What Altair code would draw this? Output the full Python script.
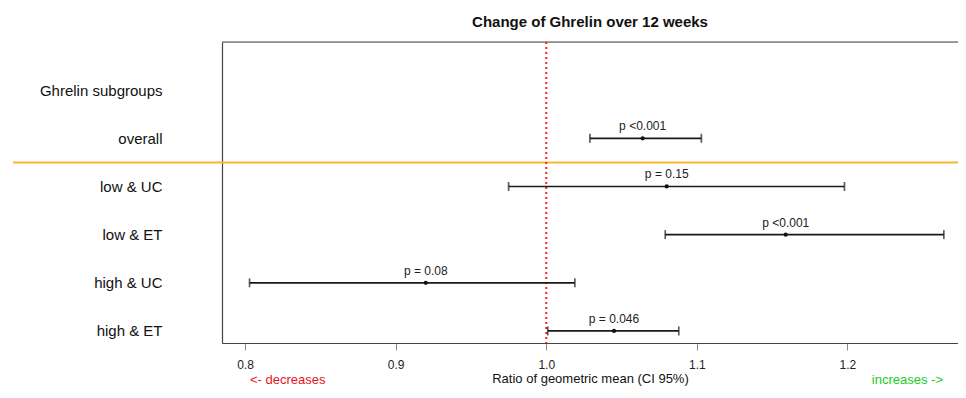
import json
import altair as alt
import pandas as pd

# ---- data ----
row_labels = ["Ghrelin subgroups", "overall", "low & UC", "low & ET", "high & UC", "high & ET"]
groups = ["overall", "low & UC", "low & ET", "high & UC", "high & ET"]
rows = [2, 3, 4, 5, 6]
estimate = [1.064, 1.080, 1.159, 0.920, 1.045]
ci_low = [1.029, 0.975, 1.079, 0.803, 1.001]
ci_high = [1.103, 1.198, 1.264, 1.019, 1.088]
p_labels = ["p <0.001", "p = 0.15", "p <0.001", "p = 0.08", "p = 0.046"]
x_ticks = [0.8, 0.9, 1.0, 1.1, 1.2]
x_domain = [0.7847, 1.2734]
y_domain = [0, 6.25]
ref_value = 1.0
separator_row = 2.5

FONT = "Liberation Sans"
W, H = 736, 301

df = pd.DataFrame({"group": groups, "row": rows, "est": estimate,
                   "lo": ci_low, "hi": ci_high, "p": p_labels})

xs = alt.Scale(domain=x_domain, nice=False, zero=False)
ys = alt.Scale(domain=y_domain, reverse=True, nice=False, zero=False)

label_expr = json.dumps(row_labels) + "[datum.value - 1]"

base = alt.Chart(df)

bars = base.mark_rule(color="#1a1a1a", strokeWidth=1.7).encode(
    x=alt.X("lo:Q", scale=xs,
            axis=alt.Axis(values=x_ticks, format=".1f", grid=False, tickSize=7,
                          tickColor="#888888", domainColor="#444444", domainWidth=1.2,
                          labelFontSize=12, labelColor="#222222", labelPadding=9,
                          labelFont=FONT, title="Ratio of geometric mean (CI 95%)",
                          titleFont=FONT, titleFontSize=13, titleFontWeight="normal",
                          titleColor="#111111", titlePadding=2)),
    x2="hi:Q",
    y=alt.Y("row:Q", scale=ys,
            axis=alt.Axis(values=[1, 2, 3, 4, 5, 6], labelExpr=label_expr, ticks=False,
                          tickSize=0, grid=False, domainColor="#444444", domainWidth=1.2,
                          labelFontSize=15, labelColor="#111111", labelFont=FONT,
                          labelPadding=60, title=None)),
)

caps_lo = base.mark_tick(orient="vertical", color="#1a1a1a", size=9, thickness=1.7).encode(
    x=alt.X("lo:Q", scale=xs), y=alt.Y("row:Q", scale=ys))
caps_hi = base.mark_tick(orient="vertical", color="#1a1a1a", size=9, thickness=1.7).encode(
    x=alt.X("hi:Q", scale=xs), y=alt.Y("row:Q", scale=ys))

points = base.mark_circle(color="#111111", size=18, opacity=1).encode(
    x=alt.X("est:Q", scale=xs), y=alt.Y("row:Q", scale=ys))

ptext = base.mark_text(font=FONT, fontSize=12, color="#222222", dy=-12,
                       baseline="middle").encode(
    x=alt.X("est:Q", scale=xs), y=alt.Y("row:Q", scale=ys), text="p:N")

ref = alt.Chart(pd.DataFrame({"v": [ref_value]})).mark_rule(
    color="#ff2020", strokeDash=[2, 3], strokeWidth=2).encode(
    x=alt.X("v:Q", scale=xs), y=alt.value(0), y2=alt.value(H))

sep = alt.Chart(pd.DataFrame({"r": [separator_row]})).mark_rule(
    color="#FBB731", strokeWidth=2).encode(
    x=alt.value(-209), x2=alt.value(W), y=alt.Y("r:Q", scale=ys))

top_border = alt.Chart(pd.DataFrame({"a": [0]})).mark_rule(
    color="#444444", strokeWidth=1.2).encode(
    x=alt.value(0), x2=alt.value(W), y=alt.value(0))

dec = alt.Chart(pd.DataFrame({"t": ["<- decreases"]})).mark_text(
    font=FONT, fontSize=13, color="#E8141E", align="left", baseline="middle").encode(
    x=alt.value(28), y=alt.value(338), text="t:N")

inc = alt.Chart(pd.DataFrame({"t": ["increases ->"]})).mark_text(
    font=FONT, fontSize=13, color="#22CC22", align="right", baseline="middle").encode(
    x=alt.value(721), y=alt.value(338), text="t:N")

chart = alt.layer(sep, top_border, ref, bars, caps_lo, caps_hi, points, ptext, dec, inc).properties(
    width=W, height=H,
    title=alt.TitleParams("Change of Ghrelin over 12 weeks", font=FONT, fontSize=15,
                          fontWeight="bold", color="#111111", anchor="middle", offset=11),
    autosize=alt.AutoSizeParams(type="none"),
    padding={"left": 214, "top": 34, "right": 0, "bottom": 45},
).configure_view(stroke=None).configure(background="white")

chart.save("out.html", embed_options={"renderer": "svg", "actions": False})
